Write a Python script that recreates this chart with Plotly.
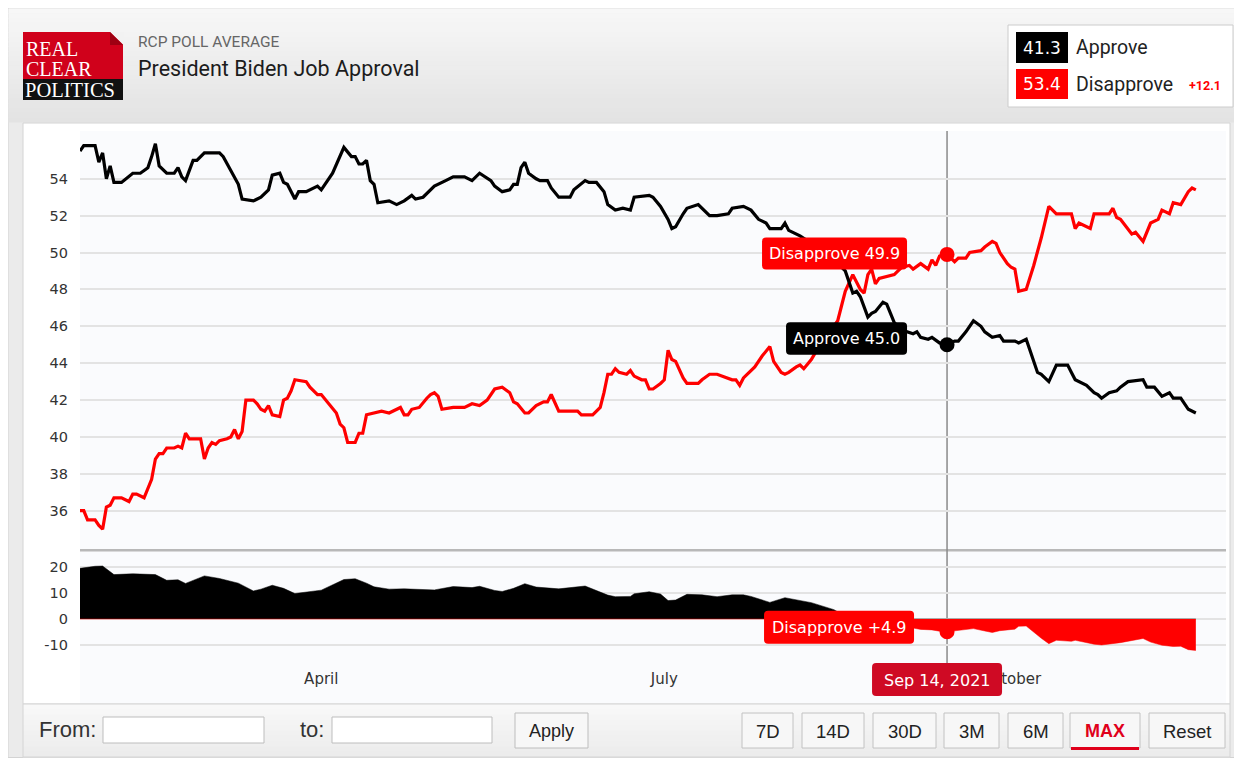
import numpy as np
import plotly.graph_objects as go

# the page body adds an 8px margin, so the figure covers the window from (8, 8)
OX, OY = 8, 8
FW, FH = 1234, 754

# ---------------- data ----------------
approve_dates = [
    "2021-01-27", "2021-01-28", "2021-01-31", "2021-02-01", "2021-02-02", "2021-02-03", "2021-02-04", "2021-02-05", "2021-02-07", "2021-02-10",
    "2021-02-12", "2021-02-14", "2021-02-15", "2021-02-16", "2021-02-17", "2021-02-19", "2021-02-21", "2021-02-22", "2021-02-23", "2021-02-24",
    "2021-02-26", "2021-02-27", "2021-03-01", "2021-03-05", "2021-03-06", "2021-03-09", "2021-03-10", "2021-03-11", "2021-03-14", "2021-03-16",
    "2021-03-18", "2021-03-19", "2021-03-21", "2021-03-22", "2021-03-23", "2021-03-25", "2021-03-26", "2021-03-28", "2021-03-31", "2021-04-01",
    "2021-04-04", "2021-04-07", "2021-04-09", "2021-04-10", "2021-04-11", "2021-04-12", "2021-04-13", "2021-04-14", "2021-04-15", "2021-04-16",
    "2021-04-19", "2021-04-21", "2021-04-23", "2021-04-25", "2021-04-26", "2021-04-28", "2021-05-01", "2021-05-04", "2021-05-06", "2021-05-09",
    "2021-05-11", "2021-05-13", "2021-05-16", "2021-05-17", "2021-05-19", "2021-05-21", "2021-05-22", "2021-05-23", "2021-05-24", "2021-05-25",
    "2021-05-26", "2021-05-28", "2021-05-29", "2021-05-31", "2021-06-01", "2021-06-03", "2021-06-06", "2021-06-07", "2021-06-10", "2021-06-11",
    "2021-06-13", "2021-06-15", "2021-06-16", "2021-06-18", "2021-06-20", "2021-06-22", "2021-06-23", "2021-06-27", "2021-06-28", "2021-06-30",
    "2021-07-02", "2021-07-03", "2021-07-04", "2021-07-06", "2021-07-07", "2021-07-10", "2021-07-11", "2021-07-13", "2021-07-15", "2021-07-18",
    "2021-07-19", "2021-07-22", "2021-07-24", "2021-07-26", "2021-07-28", "2021-07-29", "2021-08-01", "2021-08-02", "2021-08-03", "2021-08-06",
    "2021-08-09", "2021-08-12", "2021-08-15", "2021-08-18", "2021-08-20", "2021-08-21", "2021-08-22", "2021-08-24", "2021-08-25", "2021-08-26",
    "2021-08-28", "2021-08-29", "2021-08-30", "2021-08-31", "2021-09-02", "2021-09-05", "2021-09-06", "2021-09-07", "2021-09-09", "2021-09-10",
    "2021-09-12", "2021-09-14", "2021-09-16", "2021-09-17", "2021-09-19", "2021-09-21", "2021-09-23", "2021-09-24", "2021-09-26", "2021-09-28",
    "2021-09-29", "2021-10-02", "2021-10-03", "2021-10-05", "2021-10-06", "2021-10-08", "2021-10-09", "2021-10-11", "2021-10-13", "2021-10-16",
    "2021-10-17", "2021-10-18", "2021-10-21", "2021-10-23", "2021-10-24", "2021-10-25", "2021-10-27", "2021-10-29", "2021-10-30", "2021-11-01",
    "2021-11-05", "2021-11-06", "2021-11-08", "2021-11-10", "2021-11-12", "2021-11-13", "2021-11-15", "2021-11-17", "2021-11-19",
]
approve = [
    55.5, 55.8, 55.8, 54.9, 55.4, 54.0, 54.7, 53.8, 53.8, 54.3,
    54.3, 54.6, 55.2, 55.9, 54.7, 54.3, 54.3, 54.6, 54.1, 53.9,
    55.0, 55.0, 55.4, 55.4, 55.2, 54.1, 53.7, 52.9, 52.8, 53.0,
    53.4, 54.2, 54.3, 53.8, 53.7, 52.9, 53.3, 53.3, 53.6, 53.4,
    54.3, 55.7, 55.2, 55.2, 54.8, 54.8, 55.0, 53.9, 53.7, 52.7,
    52.8, 52.6, 52.8, 53.1, 52.9, 53.0, 53.6, 53.9, 54.1, 54.1,
    53.9, 54.3, 53.9, 53.6, 53.3, 53.4, 53.7, 53.7, 54.6, 54.9,
    54.3, 54.0, 53.9, 53.9, 53.5, 53.0, 53.0, 53.4, 53.9, 53.8,
    53.8, 53.3, 52.6, 52.3, 52.4, 52.3, 53.0, 53.1, 53.0, 52.5,
    51.8, 51.3, 51.4, 52.1, 52.4, 52.6, 52.4, 52.0, 52.0, 52.1,
    52.4, 52.5, 52.3, 51.8, 51.6, 51.3, 51.3, 51.6, 51.2, 50.9,
    50.5, 50.2, 49.6, 49.0, 47.8, 47.9, 47.6, 46.5, 46.7, 46.8,
    47.3, 47.2, 46.7, 46.2, 45.8, 45.6, 45.7, 45.4, 45.3, 45.4,
    45.1, 45.0, 45.2, 45.2, 45.7, 46.3, 46.0, 45.7, 45.4, 45.5,
    45.2, 45.2, 45.1, 45.3, 44.7, 43.5, 43.4, 43.0, 43.9, 43.9,
    43.5, 43.1, 42.8, 42.4, 42.3, 42.1, 42.4, 42.5, 42.7, 43.0,
    43.1, 42.7, 42.7, 42.2, 42.4, 42.1, 42.1, 41.5, 41.3,
]

disapprove_dates = [
    "2021-01-27", "2021-01-28", "2021-01-29", "2021-01-31", "2021-02-01", "2021-02-02", "2021-02-03", "2021-02-04", "2021-02-05", "2021-02-07",
    "2021-02-09", "2021-02-10", "2021-02-11", "2021-02-13", "2021-02-15", "2021-02-16", "2021-02-17", "2021-02-18", "2021-02-19", "2021-02-21",
    "2021-02-22", "2021-02-23", "2021-02-24", "2021-02-25", "2021-02-28", "2021-03-01", "2021-03-02", "2021-03-03", "2021-03-04", "2021-03-05",
    "2021-03-07", "2021-03-08", "2021-03-09", "2021-03-10", "2021-03-11", "2021-03-12", "2021-03-14", "2021-03-15", "2021-03-16", "2021-03-17",
    "2021-03-18", "2021-03-19", "2021-03-21", "2021-03-22", "2021-03-23", "2021-03-24", "2021-03-25", "2021-03-28", "2021-03-29", "2021-03-31",
    "2021-04-01", "2021-04-03", "2021-04-05", "2021-04-06", "2021-04-07", "2021-04-08", "2021-04-10", "2021-04-11", "2021-04-12", "2021-04-13",
    "2021-04-15", "2021-04-17", "2021-04-19", "2021-04-22", "2021-04-23", "2021-04-24", "2021-04-25", "2021-04-27", "2021-04-29", "2021-04-30",
    "2021-05-01", "2021-05-02", "2021-05-03", "2021-05-06", "2021-05-09", "2021-05-11", "2021-05-13", "2021-05-15", "2021-05-17", "2021-05-19",
    "2021-05-21", "2021-05-22", "2021-05-23", "2021-05-25", "2021-05-26", "2021-05-28", "2021-05-30", "2021-05-31", "2021-06-01", "2021-06-02",
    "2021-06-03", "2021-06-08", "2021-06-09", "2021-06-12", "2021-06-14", "2021-06-15", "2021-06-16", "2021-06-17", "2021-06-18", "2021-06-19",
    "2021-06-21", "2021-06-22", "2021-06-23", "2021-06-25", "2021-06-26", "2021-06-27", "2021-06-28", "2021-06-30", "2021-07-01", "2021-07-02",
    "2021-07-03", "2021-07-04", "2021-07-06", "2021-07-07", "2021-07-10", "2021-07-11", "2021-07-13", "2021-07-15", "2021-07-18", "2021-07-19",
    "2021-07-20", "2021-07-21", "2021-07-22", "2021-07-24", "2021-07-25", "2021-07-27", "2021-07-29", "2021-07-30", "2021-08-01", "2021-08-02",
    "2021-08-03", "2021-08-05", "2021-08-06", "2021-08-07", "2021-08-09", "2021-08-11", "2021-08-14", "2021-08-16", "2021-08-17", "2021-08-18",
    "2021-08-20", "2021-08-21", "2021-08-22", "2021-08-23", "2021-08-24", "2021-08-25", "2021-08-26", "2021-08-27", "2021-08-29", "2021-08-31",
    "2021-09-01", "2021-09-02", "2021-09-04", "2021-09-05", "2021-09-07", "2021-09-09", "2021-09-10", "2021-09-11", "2021-09-12", "2021-09-14",
    "2021-09-16", "2021-09-17", "2021-09-19", "2021-09-20", "2021-09-23", "2021-09-24", "2021-09-26", "2021-09-27", "2021-09-28", "2021-09-30",
    "2021-10-01", "2021-10-02", "2021-10-03", "2021-10-05", "2021-10-07", "2021-10-09", "2021-10-11", "2021-10-13", "2021-10-17", "2021-10-18",
    "2021-10-19", "2021-10-22", "2021-10-23", "2021-10-25", "2021-10-27", "2021-10-28", "2021-10-29", "2021-10-30", "2021-11-02", "2021-11-03",
    "2021-11-05", "2021-11-07", "2021-11-09", "2021-11-10", "2021-11-12", "2021-11-13", "2021-11-15", "2021-11-17", "2021-11-18", "2021-11-19",
]
disapprove = [
    36.0, 36.0, 35.5, 35.5, 35.2, 35.0, 36.2, 36.3, 36.7, 36.7,
    36.5, 36.9, 36.9, 36.7, 37.7, 38.8, 39.1, 39.1, 39.4, 39.4,
    39.5, 39.4, 40.2, 39.9, 39.9, 38.8, 39.4, 39.7, 39.6, 39.8,
    39.9, 40.0, 40.4, 39.9, 40.3, 42.0, 42.0, 41.8, 41.5, 41.4,
    41.7, 41.2, 41.1, 42.0, 42.1, 42.5, 43.1, 43.0, 42.7, 42.3,
    42.3, 41.8, 41.3, 40.7, 40.5, 39.7, 39.7, 40.2, 40.2, 41.2,
    41.3, 41.4, 41.3, 41.6, 41.2, 41.2, 41.5, 41.6, 42.1, 42.3,
    42.4, 42.2, 41.5, 41.6, 41.6, 41.8, 41.7, 42.0, 42.6, 42.7,
    42.4, 41.9, 41.8, 41.3, 41.3, 41.7, 41.9, 41.9, 42.3, 41.8,
    41.4, 41.4, 41.2, 41.2, 41.6, 42.4, 43.4, 43.4, 43.7, 43.5,
    43.4, 43.6, 43.3, 43.1, 43.1, 42.6, 42.6, 42.9, 43.1, 44.7,
    44.2, 44.1, 43.2, 42.9, 42.9, 43.1, 43.4, 43.4, 43.2, 43.1,
    43.1, 42.8, 43.2, 43.6, 43.8, 44.4, 44.9, 44.1, 43.5, 43.4,
    43.5, 43.8, 43.9, 43.7, 44.2, 44.9, 45.7, 46.3, 47.1, 47.9,
    48.8, 48.4, 48.0, 47.8, 48.8, 49.1, 48.3, 48.6, 48.7, 48.8,
    49.0, 49.2, 49.3, 49.1, 49.4, 49.1, 49.6, 49.3, 49.8, 49.9,
    49.5, 49.7, 49.7, 50.0, 50.1, 50.3, 50.6, 50.5, 50.0, 49.4,
    49.2, 49.1, 47.9, 48.0, 49.3, 50.8, 52.5, 52.1, 52.1, 51.3,
    51.6, 51.3, 52.1, 52.1, 52.1, 52.4, 51.9, 51.8, 51.0, 51.1,
    50.6, 51.6, 51.8, 52.3, 52.1, 52.7, 52.6, 53.3, 53.5, 53.4,
]

spread_dates = [
    "2021-01-27", "2021-01-31", "2021-02-02", "2021-02-05", "2021-02-10", "2021-02-16", "2021-02-19", "2021-02-22", "2021-02-24", "2021-03-01",
    "2021-03-05", "2021-03-10", "2021-03-14", "2021-03-16", "2021-03-19", "2021-03-22", "2021-03-25", "2021-03-28", "2021-04-01", "2021-04-07",
    "2021-04-10", "2021-04-13", "2021-04-15", "2021-04-19", "2021-04-23", "2021-05-01", "2021-05-06", "2021-05-11", "2021-05-13", "2021-05-17",
    "2021-05-19", "2021-05-22", "2021-05-25", "2021-05-28", "2021-05-31", "2021-06-03", "2021-06-10", "2021-06-16", "2021-06-18", "2021-06-22",
    "2021-06-23", "2021-06-27", "2021-06-30", "2021-07-02", "2021-07-04", "2021-07-07", "2021-07-11", "2021-07-15", "2021-07-19", "2021-07-22",
    "2021-07-24", "2021-07-29", "2021-08-02", "2021-08-06", "2021-08-09", "2021-08-15", "2021-08-18", "2021-08-21", "2021-08-24", "2021-08-26",
    "2021-08-29", "2021-08-31", "2021-09-02", "2021-09-05", "2021-09-07", "2021-09-10", "2021-09-12", "2021-09-14", "2021-09-17", "2021-09-19",
    "2021-09-21", "2021-09-24", "2021-09-26", "2021-09-28", "2021-10-02", "2021-10-03", "2021-10-05", "2021-10-09", "2021-10-11", "2021-10-13",
    "2021-10-17", "2021-10-18", "2021-10-23", "2021-10-25", "2021-10-27", "2021-10-30", "2021-11-05", "2021-11-07", "2021-11-10", "2021-11-13",
    "2021-11-15", "2021-11-17", "2021-11-19",
]
spread = [
    19.5, 20.3, 20.4, 17.1, 17.4, 17.1, 14.9, 15.1, 13.7, 16.6,
    15.6, 13.8, 10.8, 11.5, 13.0, 11.8, 9.8, 10.3, 11.1, 15.2,
    15.5, 13.8, 12.4, 11.5, 11.6, 11.2, 12.5, 12.1, 12.6, 11.0,
    10.6, 11.8, 13.6, 12.3, 12.0, 11.6, 12.7, 9.2, 8.6, 8.7,
    9.7, 10.5, 9.6, 7.1, 7.3, 9.5, 9.3, 8.6, 9.3, 9.3,
    8.7, 6.4, 8.2, 7.0, 6.3, 3.6, 1.1, -0.5, -2.3, -1.5,
    -1.5, -2.6, -3.4, -3.5, -4.0, -4.2, -4.7, -4.9, -4.5, -4.0,
    -3.7, -4.6, -5.2, -4.5, -3.9, -2.8, -2.7, -7.4, -9.5, -8.2,
    -8.6, -8.2, -9.7, -10.0, -9.7, -9.1, -7.5, -8.9, -10.1, -10.6,
    -10.5, -11.8, -12.1,
]

main_ticks = [36, 38, 40, 42, 44, 46, 48, 50, 52, 54]
spread_ticks = [-10, 0, 10, 20]
spread_tick_text = ["-10", "0", "10", "20"]
month_ticks = ["2021-04-01", "2021-07-01", "2021-10-01"]
month_labels = ["April", "July", "October"]
x_range = ["2021-01-27", "2021-11-27"]
focus_date = "2021-09-14"
focus_label = "Sep 14, 2021"
range_buttons = ["7D", "14D", "30D", "3M", "6M", "MAX", "Reset"]

# ---------------- styling helpers ----------------
BLACK, RED, DARKRED = "#000000", "#ff0000", "#cf0a24"
YTICKFONT = dict(family="DejaVu Sans", size=14.5, color="#333333")
XTICKFONT = dict(family="DejaVu Sans", size=15, color="#333333")
LABEL_SIZE = 16


def X(px):
    return (px - OX) / FW


def Y(py):
    return 1 - (py - OY) / FH


shapes = []
annotations = []


def rect(x0, y0, x1, y1, fill, line=None, lw=1, layer="below"):
    shapes.append(dict(type="rect", xref="paper", yref="paper",
                       x0=X(x0), x1=X(x1), y0=Y(y1), y1=Y(y0),
                       fillcolor=fill, layer=layer,
                       line=dict(color=line if line else fill, width=lw if line else 0)))


def gradient(x0, y0, x1, y1, c0, c1, n):
    step = (y1 - y0) / n
    for i in range(n):
        t = i / max(n - 1, 1)
        c = tuple(int(round(a + (b - a) * t)) for a, b in zip(c0, c1))
        rect(x0, y0 + i * step, x1, y0 + (i + 1) * step + 0.6, "rgb(%d,%d,%d)" % c)


def text(px, py, s, size, color, family="Roboto", anchor="left", bold=False):
    if bold:
        s = "<b>" + s + "</b>"
    annotations.append(dict(xref="paper", yref="paper", x=X(px), y=Y(py), text=s,
                            showarrow=False, xanchor=anchor, yanchor="middle",
                            font=dict(family=family, size=size, color=color), borderpad=0))


def rr_path(x0, x1, y0, y1, rx, ry):
    return (f"M{x0 + rx},{y0} L{x1 - rx},{y0} Q{x1},{y0} {x1},{y0 + ry} "
            f"L{x1},{y1 - ry} Q{x1},{y1} {x1 - rx},{y1} L{x0 + rx},{y1} "
            f"Q{x0},{y1} {x0},{y1 - ry} L{x0},{y0 + ry} Q{x0},{y0} {x0 + rx},{y0} Z")


# ---------------- widget chrome ----------------
rect(8, 8, 1234.5, 757.5, "#ebebeb", "#d3d3d3")
gradient(8.5, 8.5, 1234, 122, (247, 247, 247), (227, 227, 227), 24)
rect(23, 123, 1230, 704, "#ffffff", "#d4d4d4")
rect(80, 131, 1226, 703, "#fafbfd")
gradient(23, 704, 1230, 757, (248, 248, 248), (236, 236, 236), 10)
rect(23, 704, 1230, 757, "rgba(0,0,0,0)", "#d4d4d4")

# logo
rect(23, 32, 123, 79, "#d0011b")
rect(23, 79, 123, 100, "#111111")
shapes.append(dict(type="path", xref="paper", yref="paper", layer="below",
                   path=f"M{X(110)},{Y(32)} L{X(123.5)},{Y(32)} L{X(123.5)},{Y(45)} Z",
                   fillcolor="#f2f2f2", line=dict(width=0)))
shapes.append(dict(type="path", xref="paper", yref="paper", layer="below",
                   path=f"M{X(110)},{Y(32)} L{X(123)},{Y(45)} L{X(110)},{Y(45)} Z",
                   fillcolor="#9e0012", line=dict(width=0)))
text(25, 48.5, "REAL", 20, "#ffffff", "Liberation Serif")
text(25, 68.5, "CLEAR", 20, "#ffffff", "Liberation Serif")
text(24, 90, "POLITICS", 20.5, "#ffffff", "Liberation Serif")

# titles
text(137, 42, "RCP POLL AVERAGE", 15.5, "#666666")
text(137, 69, "President Biden Job Approval", 21.5, "#1c1c1c")

# legend box
rect(1008, 25, 1233, 107, "#ffffff", "#cccccc")
rect(1016, 32, 1068, 63, BLACK)
rect(1016, 69, 1068, 99, RED)
text(1042, 48, f"{approve[-1]:.1f}", 17, "#ffffff", "DejaVu Sans", anchor="center")
text(1042, 84.5, f"{disapprove[-1]:.1f}", 17, "#ffffff", "DejaVu Sans", anchor="center")
text(1075, 48, "Approve", 19.5, "#222222")
text(1075, 84.5, "Disapprove", 19.5, "#222222")
lead = disapprove[-1] - approve[-1]
text(1188, 86, f"+{lead:.1f}", 12.5, RED, bold=True)

# footer controls
text(38, 729, "From:", 22, "#333333", "Liberation Sans")
rect(103, 717, 264, 743, "#ffffff", "#bdbdbd")
text(299, 729, "to:", 22, "#333333", "Liberation Sans")
rect(332, 717, 492, 743, "#ffffff", "#bdbdbd")
rect(515, 713, 588, 748, "#f7f7f7", "#bdbdbd")
text(551.5, 731, "Apply", 18, "#222222", "Liberation Sans", anchor="center")
btn_x = [(742, 793), (802, 864), (873, 936), (944, 999), (1008, 1063), (1070, 1140), (1149, 1225)]
for (bx0, bx1), lab in zip(btn_x, range_buttons):
    rect(bx0, 713, bx1, 748, "#f7f7f7", "#c2c2c2")
    if lab == "MAX":
        rect(bx0 + 1, 747, bx1 - 1, 750, "#e0001b")
        text((bx0 + bx1) / 2, 731, lab, 18, "#e0001b", "Liberation Sans", anchor="center", bold=True)
    else:
        text((bx0 + bx1) / 2, 731, lab, 18.5, "#222222", "Liberation Sans", anchor="center")

# separator between main panel and spread panel
rect(80, 549, 1226, 551.5, "#b8b8b8")

# focus cross-hair
shapes.append(dict(type="line", xref="x", yref="paper", x0=focus_date, x1=focus_date,
                   y0=Y(663), y1=Y(131), line=dict(color="#8a8a8a", width=1.5), layer="below"))

# ---------------- traces ----------------
fig = go.Figure()
fig.add_trace(go.Scatter(x=disapprove_dates, y=disapprove, mode="lines",
                         line=dict(color=RED, width=3.2), xaxis="x", yaxis="y"))
fig.add_trace(go.Scatter(x=approve_dates, y=approve, mode="lines",
                         line=dict(color=BLACK, width=3.2), xaxis="x", yaxis="y"))

spread_arr = np.array(spread)
fig.add_trace(go.Scatter(x=spread_dates, y=np.maximum(spread_arr, 0), mode="lines", fill="tozeroy",
                         fillcolor=BLACK, line=dict(color=BLACK, width=0.5), xaxis="x2", yaxis="y2"))
fig.add_trace(go.Scatter(x=spread_dates, y=np.minimum(spread_arr, 0), mode="lines", fill="tozeroy",
                         fillcolor=RED, line=dict(color=RED, width=0.5), xaxis="x2", yaxis="y2"))

dis_val = disapprove[disapprove_dates.index(focus_date)]
app_val = approve[approve_dates.index(focus_date)]
spr_val = spread[spread_dates.index(focus_date)]

fig.add_trace(go.Scatter(x=[focus_date], y=[dis_val], mode="markers",
                         marker=dict(color=RED, size=15), xaxis="x", yaxis="y"))
fig.add_trace(go.Scatter(x=[focus_date], y=[app_val], mode="markers",
                         marker=dict(color=BLACK, size=15), xaxis="x", yaxis="y"))
fig.add_trace(go.Scatter(x=[focus_date], y=[spr_val], mode="markers",
                         marker=dict(color=RED, size=15), xaxis="x2", yaxis="y2"))


# ---------------- tooltip labels ----------------
def tooltip(xref, yref, yval, x0, x1, y0, y1, color, label):
    shapes.append(dict(type="path", layer="above", xref=xref, yref=yref,
                       xsizemode="pixel", xanchor=focus_date,
                       ysizemode="pixel", yanchor=yval,
                       path=rr_path(x0, x1, y0, y1, 4, 4),
                       fillcolor=color, line=dict(width=0)))
    annotations.append(dict(xref=xref, yref=yref, x=focus_date, y=yval, text=label,
                            showarrow=False, xanchor="center", yanchor="middle",
                            xshift=(x0 + x1) / 2, yshift=(y0 + y1) / 2 - 0.5,
                            font=dict(family="DejaVu Sans", size=LABEL_SIZE, color="#ffffff")))


tooltip("x", "y", dis_val, -185, -40, -15, 17, RED, f"Disapprove {dis_val:.1f}")
tooltip("x", "y", app_val, -161, -40, -10, 22.5, BLACK, f"Approve {app_val:.1f}")
tooltip("x2", "y2", spr_val, -183, -33, -12, 21, RED, f"Disapprove +{-spr_val:.1f}")

shapes.append(dict(type="path", layer="above", xref="x2", yref="paper",
                   xsizemode="pixel", xanchor=focus_date,
                   path=rr_path(-75, 55, Y(696), Y(663), 4, 4 / FH),
                   fillcolor=DARKRED, line=dict(width=0)))
annotations.append(dict(xref="x2", yref="paper", x=focus_date, y=Y(680), text=focus_label,
                        showarrow=False, xanchor="center", yanchor="middle", xshift=-10,
                        font=dict(family="DejaVu Sans", size=LABEL_SIZE, color="#ffffff")))

# ---------------- layout ----------------
x_dom = [X(80), X(1226)]
main_bottom_val, main_top_val = 33.87, 56.59
spread_bottom_val, spread_top_val = -18.1, 25.8

fig.update_layout(
    width=FW, height=FH, margin=dict(l=0, r=0, t=0, b=0),
    paper_bgcolor="#ffffff", plot_bgcolor="rgba(0,0,0,0)",
    showlegend=False, hovermode=False,
    shapes=shapes, annotations=annotations,
    xaxis=dict(domain=x_dom, range=x_range, type="date", anchor="y",
               showticklabels=False, showgrid=False, zeroline=False, showline=False, ticks=""),
    yaxis=dict(domain=[Y(550), Y(131)], range=[main_bottom_val, main_top_val],
               tickmode="array", tickvals=main_ticks, ticks="", ticklabelstandoff=11,
               showgrid=True, gridcolor="#e3e3e3", gridwidth=2, zeroline=False, showline=False,
               tickfont=YTICKFONT),
    xaxis2=dict(domain=x_dom, range=x_range, type="date", anchor="y2", matches="x",
                tickmode="array", tickvals=month_ticks, ticktext=month_labels, ticks="",
                ticklabelstandoff=2, showgrid=False, zeroline=False, showline=False,
                tickfont=XTICKFONT),
    yaxis2=dict(domain=[Y(666), Y(552)], range=[spread_bottom_val, spread_top_val],
                tickmode="array", tickvals=spread_ticks, ticktext=spread_tick_text,
                ticks="", ticklabelstandoff=11,
                showgrid=True, gridcolor="#e3e3e3", gridwidth=2, zeroline=False, showline=False,
                tickfont=YTICKFONT),
)

fig.write_html("out.html", config={"displayModeBar": False})
